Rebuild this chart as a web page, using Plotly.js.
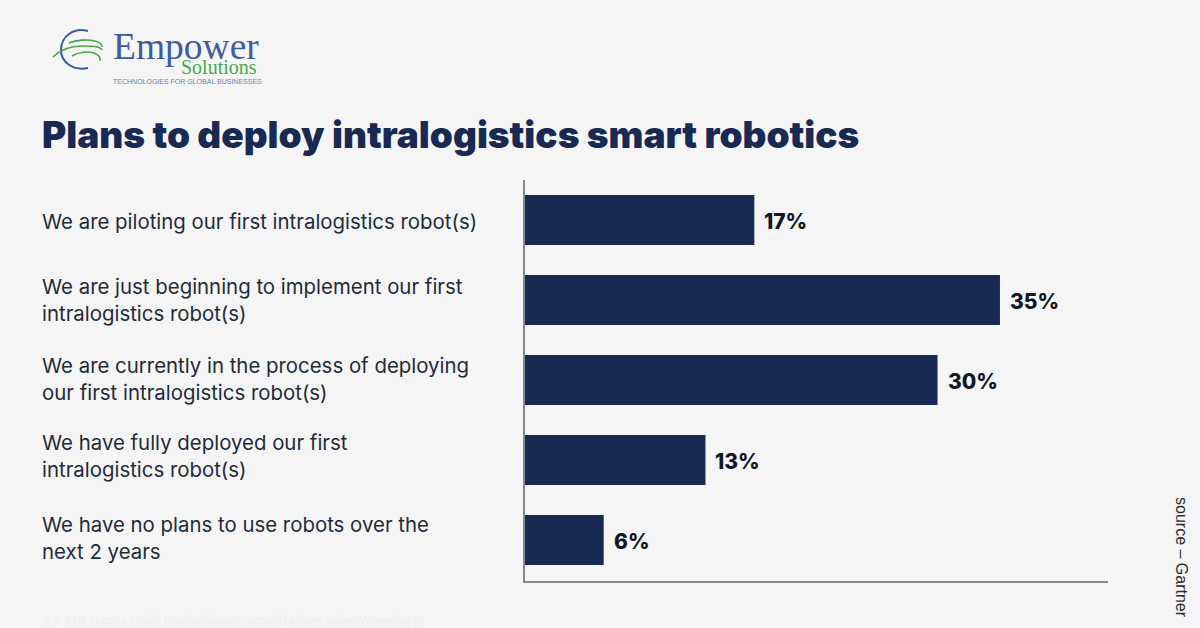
<!DOCTYPE html>
<html><head><meta charset="utf-8">
<script src="https://cdn.plot.ly/plotly-3.0.1.min.js"></script>
<style>html,body{margin:0;padding:0;background:#f5f5f5}</style></head>
<body><div id="chart" style="width:1200px;height:628px"></div>
<script>
const categories = [
  "We are piloting our first intralogistics robot(s)",
  "We are just beginning to implement our first<br>intralogistics robot(s)",
  "We are currently in the process of deploying<br>our first intralogistics robot(s)",
  "We have fully deployed our first<br>intralogistics robot(s)",
  "We have no plans to use robots over the<br>next 2 years"
];
const barLengths = [16.9, 35, 30.4, 13.3, 5.8];
const valueLabels = ["17%", "35%", "30%", "13%", "6%"];

const W = 1200, H = 628, L = 525, R = 1108, T = 180, B = 581;
const px = x => (x - L) / (R - L);
const py = y => (B - y) / (B - T);
function curve(p) {
  let s = 'M' + px(p[0]) + ',' + py(p[1]);
  for (let i = 2; i < p.length; i += 6) {
    s += ' C' + px(p[i]) + ',' + py(p[i + 1]) + ' ' + px(p[i + 2]) + ',' + py(p[i + 3]) + ' ' + px(p[i + 4]) + ',' + py(p[i + 5]);
  }
  return s;
}
function arc(p, color, w) {
  return {type: 'path', xref: 'paper', yref: 'paper', path: curve(p), fillcolor: 'rgba(0,0,0,0)',
          line: {color: color, width: w}, layer: 'above'};
}
const shapes = [
  arc([88,31, 74,27, 61,36, 61,50, 61,63, 74,71, 88,68], '#3d5a9e', 2),
  arc([53,57, 60,50, 70,46, 82,46, 92,46, 100,46, 102,50], '#46a84a', 1.7),
  arc([69,43, 76,40, 88,39, 95,41, 99,42, 102,44, 102,47], '#46a84a', 1.6),
  arc([72,56, 78,52, 88,51, 94,53, 99,55, 101,57, 100,61], '#46a84a', 1.6)
];

const annotations = [];
const ys = categories.map((c, i) => i);
const labelNudge = [-1, 0, 1, 4, 2];
categories.forEach((c, i) => annotations.push({
  xref: 'paper', yref: 'y', x: px(40), y: i, xanchor: 'left', yanchor: 'middle', align: 'left', yshift: labelNudge[i],
  text: c, showarrow: false, font: {family: 'Inter, sans-serif', size: 20.4, color: '#1f2b3a'}
}));
barLengths.forEach((v, i) => annotations.push({
  xref: 'x', yref: 'y', x: v, y: i, xanchor: 'left', yanchor: 'middle', xshift: 8, yshift: -1,
  text: valueLabels[i], showarrow: false,
  font: {family: 'Inter, sans-serif', size: 21, weight: 800, color: '#101828'}
}));
function pageText(text, x, y, size, color, family, extra) {
  annotations.push(Object.assign({xref: 'paper', yref: 'paper', x: px(x), y: py(y), xanchor: 'left', yanchor: 'middle',
    text, showarrow: false, font: {family, size, color}}, extra || {}));
}
pageText('Empower', 111, 47, 37.5, '#3f5ca0', 'Liberation Serif, serif');
pageText('Solutions', 179, 67, 20, '#46a84a', 'Liberation Serif, serif');
pageText('TECHNOLOGIES FOR GLOBAL BUSINESSES', 111, 82, 7, '#6d7fb0', 'Liberation Sans, sans-serif');
pageText('source – Gartner', 1182, 557, 16, '#2b2b2b', 'Liberation Sans, sans-serif', {textangle: 90, xanchor: 'center'});
pageText('n = 279 supply chain professionals, organizations using/planning to', 40, 620, 12, '#eeeeee', 'Inter, sans-serif');

Plotly.newPlot('chart', [{
  type: 'bar', orientation: 'h', y: ys, x: barLengths, marker: {color: '#182a53', line: {width: 0}},
  width: 0.625, hoverinfo: 'skip'
}], {
  width: W, height: H, paper_bgcolor: '#f5f5f5', plot_bgcolor: '#f5f5f5', showlegend: false,
  margin: {l: L, r: W - R, t: T, b: H - B, pad: 0},
  title: {text: 'Plans to deploy intralogistics smart robotics', x: 42 / W, xanchor: 'left', y: 1 - 135 / H, yanchor: 'middle',
          font: {family: 'Inter, sans-serif', size: 37, weight: 900, color: '#182a53'}},
  xaxis: {range: [0, 583 / 13.57], showgrid: false, zeroline: false, showticklabels: false, ticks: '',
          showline: true, linecolor: '#85898d', linewidth: 2},
  yaxis: {range: [4.5125, -0.5], showgrid: false, zeroline: false, showticklabels: false, ticks: '',
          showline: true, linecolor: '#85898d', linewidth: 2},
  shapes, annotations
}, {displayModeBar: false, staticPlot: true});
</script></body></html>
